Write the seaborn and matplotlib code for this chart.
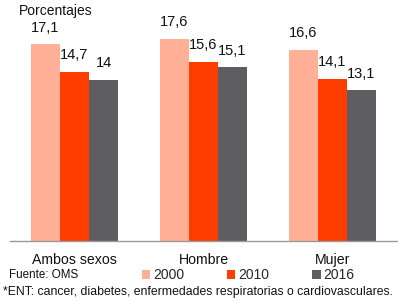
import pandas as pd
import matplotlib.pyplot as plt
from matplotlib.patches import Patch
import seaborn as sns

# Datos del gráfico
categorias = ['Ambos sexos', 'Hombre', 'Mujer']
anios = ['2000', '2010', '2016']
valores_2000 = [17.1, 17.6, 16.6]
valores_2010 = [14.7, 15.6, 14.1]
valores_2016 = [14.0, 15.1, 13.1]
colores = ['#FFB096', '#FF3D00', '#5E5D62']

df = pd.DataFrame({
    'Categoria': categorias * 3,
    'Anio': [anios[0]] * 3 + [anios[1]] * 3 + [anios[2]] * 3,
    'Valor': valores_2000 + valores_2010 + valores_2016,
})

sns.set_theme(style='white')
plt.rcParams['font.family'] = ['Liberation Sans', 'DejaVu Sans']

fig = plt.figure(figsize=(3.98, 3.02), dpi=100)
ax = fig.add_axes([10 / 398, 61 / 302, 387 / 398, 230 / 302])

sns.barplot(data=df, x='Categoria', y='Valor', hue='Anio', order=categorias,
            hue_order=anios, palette=colores, width=0.675, linewidth=0,
            saturation=1, legend=False, ax=ax)

# Etiquetas de valores con coma decimal
for cont in ax.containers:
    etiquetas = [f"{b.get_height():g}".replace('.', ',') for b in cont]
    ax.bar_label(cont, labels=etiquetas, padding=7, fontsize=10.5, color='#111111')

ax.set_ylim(0, 20)
ax.set_xlim(-0.5, 2.5)
ax.set_yticks([])
ax.set_xlabel('')
ax.set_ylabel('')
for s in ['top', 'right', 'left']:
    ax.spines[s].set_visible(False)
ax.spines['bottom'].set_color('#999999')
ax.spines['bottom'].set_linewidth(1)

ax.set_xticks([-0.5, 0.5, 1.5, 2.5], minor=True)
ax.tick_params(axis='x', which='minor', length=4, width=1, color='#999999', direction='out')
ax.tick_params(axis='x', which='major', length=0, pad=8.5)
for t in ax.get_xticklabels():
    t.set_fontsize(10.2)
    t.set_color('#111111')

fig.text(19 / 398, 1 - 11 / 302, 'Porcentajes', fontsize=10, va='center', ha='left', color='#111111')
fig.text(9 / 398, 1 - 274.5 / 302, 'Fuente: OMS', fontsize=8.4, va='center', ha='left',
         color='#111111')
fig.text(3 / 398, 1 - 292.5 / 302,
         '*ENT: cancer, diabetes, enfermedades respiratorias o cardiovasculares.',
         fontsize=8.8, va='center', ha='left', color='#111111')

handles = [Patch(facecolor=c, edgecolor='none', label=a) for c, a in zip(colores, anios)]
fig.legend(handles=handles, loc='center', bbox_to_anchor=(248 / 398, 1 - 275 / 302),
           ncol=3, frameon=False, handlelength=0.6, handleheight=0.6,
           handletextpad=0.2, columnspacing=3.1, borderpad=0,
           prop={'size': 10})

fig.savefig('out.png', dpi=100)
